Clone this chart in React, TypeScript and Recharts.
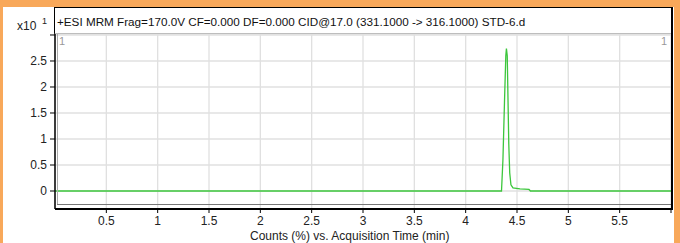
import React from "react";
import { LineChart, Line, XAxis, YAxis, CartesianGrid } from "recharts";

// acquisition time (min) and counts (x10^1)
const times = [
  0, 1, 2, 3, 4, 4.3, 4.349, 4.363, 4.378, 4.391, 4.397, 4.405, 4.412, 4.42,
  4.429, 4.441, 4.461, 4.529, 4.617, 4.631, 5, 6,
];
const counts = [
  0, 0, 0, 0, 0, 0, 0, 0.6, 1.7, 2.6, 2.74, 2.6, 1.8, 0.9, 0.35, 0.12, 0.06,
  0.04, 0.03, 0, 0, 0,
];
const xTicks = [0.5, 1, 1.5, 2, 2.5, 3, 3.5, 4, 4.5, 5, 5.5, 6];
const yTicks = [0, 0.5, 1, 1.5, 2, 2.5, 3];

const title =
  "+ESI MRM Frag=170.0V CF=0.000 DF=0.000 CID@17.0 (331.1000 -> 316.1000) STD-6.d";
const xLabel = "Counts (%) vs. Acquisition Time (min)";

const FONT = "'Liberation Sans', Arial, sans-serif";

const data = times.map((t, i) => ({ t, v: counts[i] }));

const abs = (s: React.CSSProperties): React.CSSProperties => ({
  position: "absolute",
  pointerEvents: "none",
  ...s,
});

export default function App() {
  return (
    <div
      style={{
        position: "fixed",
        left: 0,
        top: 0,
        width: 680,
        height: 243,
        background: "#f8a85a",
        fontFamily: FONT,
        overflow: "hidden",
      }}
    >
      <div style={abs({ left: 3, top: 7, width: 671, height: 236, background: "#fff" })} />

      {/* title strip */}
      <div
        style={abs({
          left: 54,
          top: 7,
          width: 616,
          height: 25,
          borderTop: "1px solid #000",
          borderLeft: "1px solid #000",
          borderRight: "2px solid #000",
          borderBottom: "1px solid #555",
        })}
      />
      <div style={abs({ left: 57, top: 15, fontSize: 11.7, color: "#111", whiteSpace: "nowrap" })}>
        {title}
      </div>
      <div style={abs({ left: 17, top: 19, fontSize: 12, color: "#222" })}>x10</div>
      <div style={abs({ left: 42, top: 16, fontSize: 9, color: "#222" })}>1</div>

      <div style={abs({ left: 0, top: 0 })}>
        <LineChart
          width={680}
          height={243}
          data={data}
          margin={{ top: 34, right: 9, bottom: 14, left: 10 }}
        >
          <CartesianGrid stroke="#e0e0e0" strokeWidth={1.3} />
          <XAxis
            type="number"
            dataKey="t"
            domain={[0, 6]}
            ticks={xTicks}
            allowDataOverflow
            height={20}
            tickSize={4}
            tickMargin={3}
            tickFormatter={(t: number) => (t === 6 ? "" : String(t))}
            tick={{ fontSize: 12, fill: "#222", fontFamily: FONT }}
            tickLine={{ stroke: "#000" }}
            axisLine={{ stroke: "#000", strokeWidth: 2 }}
          />
          <YAxis
            type="number"
            domain={[-0.346, 3.019]}
            ticks={yTicks}
            allowDataOverflow
            width={45}
            tickSize={5}
            tickMargin={3}
            tickFormatter={(v: number) => (v === 3 ? "" : String(v))}
            tick={{ fontSize: 12, fill: "#222", fontFamily: FONT }}
            tickLine={{ stroke: "#000" }}
            axisLine={{ stroke: "#000", strokeWidth: 1.5 }}
          />
          <Line
            type="linear"
            dataKey="v"
            stroke="#3cc63c"
            strokeWidth={1.3}
            dot={false}
            isAnimationActive={false}
          />
        </LineChart>
      </div>

      {/* plot frame decorations */}
      <div style={abs({ left: 671, top: 33, width: 2, height: 177, background: "#000" })} />
      <div style={abs({ left: 57, top: 34, width: 1, height: 171, background: "#aaa" })} />
      <div style={abs({ left: 57, top: 204, width: 614, height: 1, background: "#777" })} />
      <div style={abs({ left: 59, top: 35, fontSize: 11, color: "#999" })}>1</div>
      <div style={abs({ left: 661, top: 35, fontSize: 11, color: "#999" })}>1</div>

      <div style={abs({ left: 250, top: 229, fontSize: 12, color: "#222", whiteSpace: "nowrap" })}>
        {xLabel}
      </div>
    </div>
  );
}
